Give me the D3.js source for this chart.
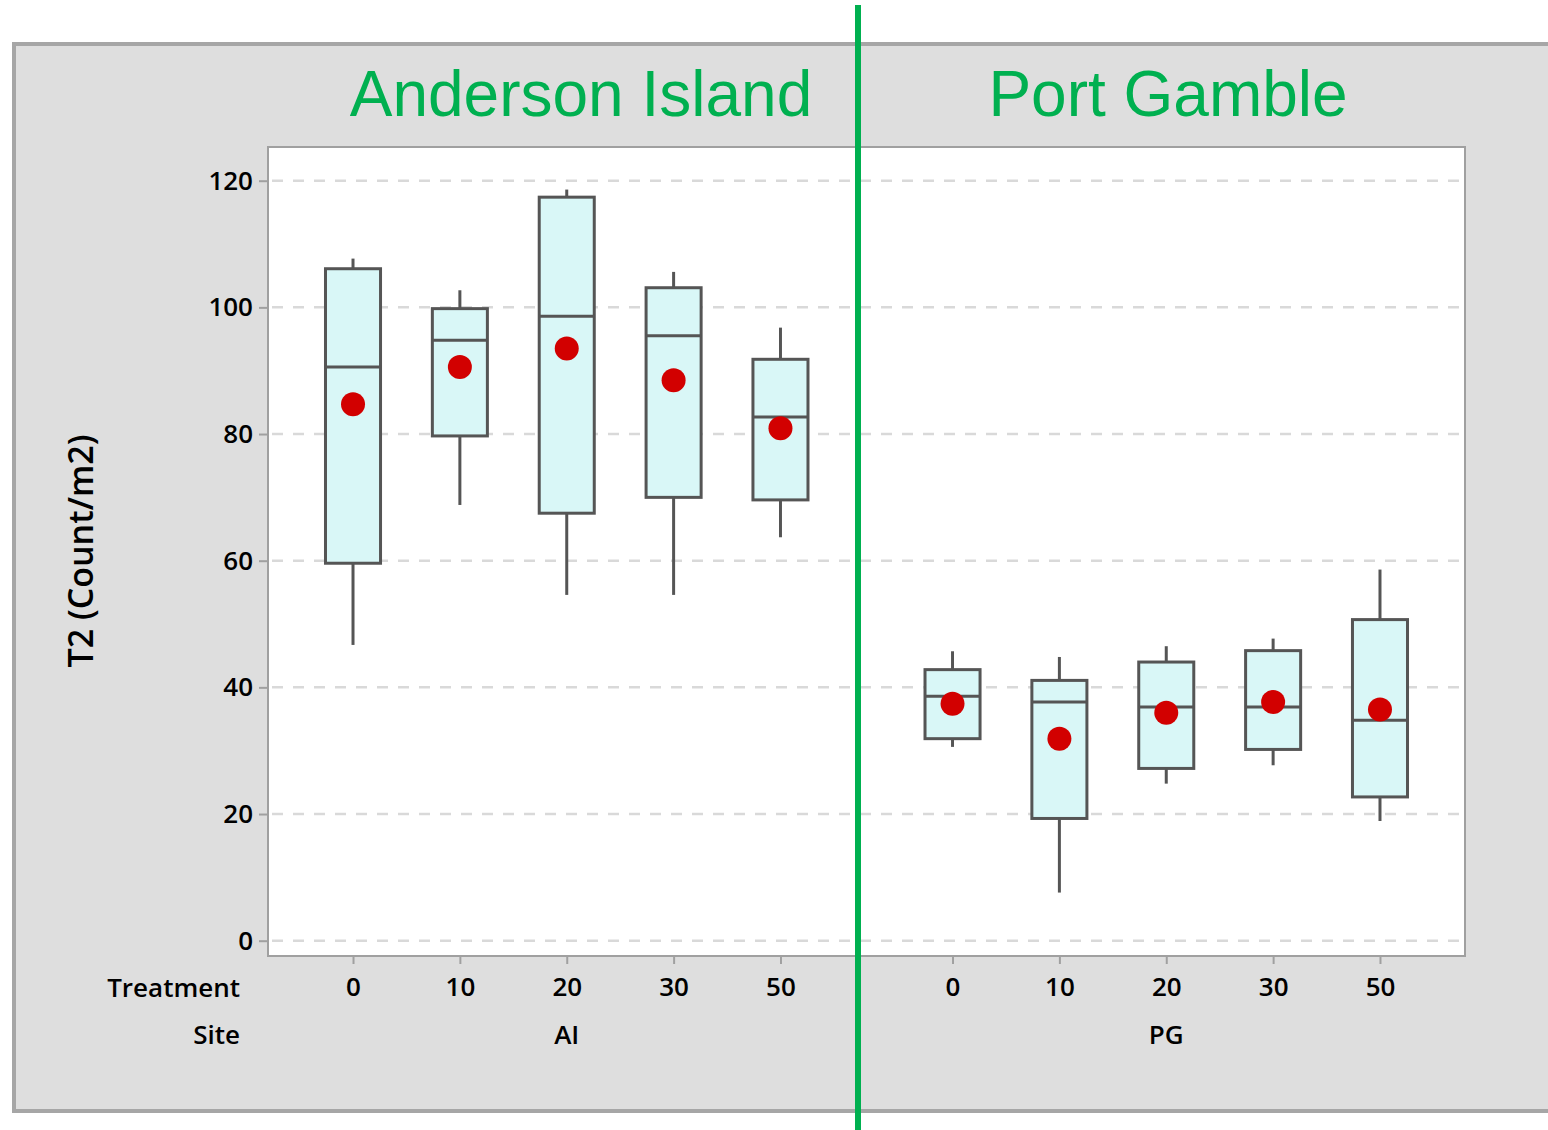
<!DOCTYPE html>
<html>
<head>
<meta charset="utf-8">
<script src="https://cdn.jsdelivr.net/npm/d3@7"></script>
<style>
  html, body { margin: 0; padding: 0; background: #ffffff; }
  svg { display: block; }
</style>
</head>
<body>
<script>
// Treatment levels within each site, and the two sites
const treatments = ["0", "10", "20", "30", "50"];
const sites = ["AI", "PG"];
const siteTitles = ["Anderson Island", "Port Gamble"];

// Box plot statistics, AI treatments first, then PG treatments
const whiskerLow  = [46.7, 68.8, 54.6, 54.6, 63.7, 30.6,  7.6, 24.8, 27.7, 18.9];
const q1          = [59.6, 79.7, 67.5, 70.0, 69.6, 31.9, 19.3, 27.2, 30.2, 22.7];
const median      = [90.6, 94.8, 98.6, 95.5, 82.7, 38.6, 37.7, 36.9, 36.9, 34.8];
const q3          = [106.1, 99.8, 117.4, 103.1, 91.8, 42.8, 41.1, 44.0, 45.8, 50.7];
const whiskerHigh = [107.7, 102.7, 118.6, 105.6, 96.8, 45.7, 44.8, 46.5, 47.7, 58.6];
const mean        = [84.7, 90.6, 93.5, 88.5, 80.9, 37.4, 31.9, 36.0, 37.7, 36.5];

const yTicks = [0, 20, 40, 60, 80, 100, 120];
const yLabel = "T2 (Count/m2)";

const W = 1548, H = 1130;
const plot = { left: 268, top: 147, right: 1465, bottom: 956 };
const font = "'Open Sans', 'Noto Sans', sans-serif";
const titleFont = "'Liberation Sans', Arial, sans-serif";
const green = "#00b050";
const boxStroke = "#555555";

const rows = [];
sites.forEach((s, si) => treatments.forEach((t, ti) => {
  const i = si * treatments.length + ti;
  rows.push({ site: s, treatment: t, lo: whiskerLow[i], q1: q1[i], med: median[i],
              q3: q3[i], hi: whiskerHigh[i], mean: mean[i] });
}));

const svg = d3.select("body").append("svg").attr("width", W).attr("height", H);

// Outer grey panel
svg.append("rect")
  .attr("x", 14).attr("y", 44).attr("width", W + 20).attr("height", 1067)
  .attr("fill", "#dedede").attr("stroke", "#a6a6a6").attr("stroke-width", 4);

// Scales
const y = d3.scaleLinear().domain([0, 120]).range([940.7, 180.7]);
const xSite = d3.scaleBand().domain(sites)
  .range([plot.left, plot.right]).paddingInner(0.287).paddingOuter(0.1418);
const xTreat = d3.scalePoint().domain(treatments).range([0, xSite.bandwidth()]).padding(0);
const xPos = d => xSite(d.site) + xTreat(d.treatment);
const boxW = xTreat.step() * 0.515;

// Plot area
svg.append("rect")
  .attr("x", plot.left).attr("y", plot.top)
  .attr("width", plot.right - plot.left).attr("height", plot.bottom - plot.top)
  .attr("fill", "#ffffff").attr("stroke", "#a0a0a0").attr("stroke-width", 2);

// Dashed gridlines
svg.append("g").selectAll("line").data(yTicks).join("line")
  .attr("x1", plot.left + 4).attr("x2", plot.right - 4)
  .attr("y1", d => y(d)).attr("y2", d => y(d))
  .attr("stroke", "#d9d9d9").attr("stroke-width", 2.5)
  .attr("stroke-dasharray", "11,10");

// Y axis ticks and labels
const yAxis = d3.axisLeft(y).tickValues(yTicks).tickSize(8).tickPadding(6);
const gy = svg.append("g").attr("transform", `translate(${plot.left - 1},0)`).call(yAxis);
gy.select(".domain").remove();
gy.selectAll(".tick line").attr("stroke", "#a0a0a0").attr("stroke-width", 2);
gy.selectAll(".tick text")
  .attr("font-family", font).attr("font-size", 26).attr("font-weight", 600).attr("fill", "#000");

// X axis: treatment ticks
const xAxisG = svg.append("g").attr("transform", `translate(0,${plot.bottom + 1})`);
sites.forEach(s => {
  const ax = d3.axisBottom(xTreat).tickSize(7).tickPadding(14);
  const g = xAxisG.append("g").attr("transform", `translate(${xSite(s)},0)`).call(ax);
  g.select(".domain").remove();
  g.selectAll(".tick line").attr("stroke", "#a0a0a0").attr("stroke-width", 2);
  g.selectAll(".tick text")
    .attr("font-family", font).attr("font-size", 26).attr("font-weight", 600).attr("fill", "#000");
});

// Site labels centred under each group
svg.append("g").selectAll("text").data(sites).join("text")
  .attr("x", d => xSite(d) + xSite.bandwidth() / 2).attr("y", 1044)
  .attr("text-anchor", "middle")
  .attr("font-family", font).attr("font-size", 26).attr("font-weight", 600)
  .text(d => d);

// Row headers
svg.append("text").attr("x", 240).attr("y", 997).attr("text-anchor", "end")
  .attr("font-family", font).attr("font-size", 26).attr("font-weight", 600).text("Treatment");
svg.append("text").attr("x", 240).attr("y", 1044).attr("text-anchor", "end")
  .attr("font-family", font).attr("font-size", 26).attr("font-weight", 600).text("Site");

// Y axis title
svg.append("text")
  .attr("transform", `translate(93,551) rotate(-90)`)
  .attr("text-anchor", "middle")
  .attr("font-family", font).attr("font-size", 34).attr("font-weight", 600)
  .text(yLabel);

// Boxes
const boxes = svg.append("g").selectAll("g").data(rows).join("g");
boxes.append("line")
  .attr("x1", xPos).attr("x2", xPos)
  .attr("y1", d => y(d.hi)).attr("y2", d => y(d.q3))
  .attr("stroke", boxStroke).attr("stroke-width", 3);
boxes.append("line")
  .attr("x1", xPos).attr("x2", xPos)
  .attr("y1", d => y(d.q1)).attr("y2", d => y(d.lo))
  .attr("stroke", boxStroke).attr("stroke-width", 3);
boxes.append("rect")
  .attr("x", d => xPos(d) - boxW / 2).attr("width", boxW)
  .attr("y", d => y(d.q3)).attr("height", d => y(d.q1) - y(d.q3))
  .attr("fill", "#d9f7f7").attr("stroke", boxStroke).attr("stroke-width", 3);
boxes.append("line")
  .attr("x1", d => xPos(d) - boxW / 2).attr("x2", d => xPos(d) + boxW / 2)
  .attr("y1", d => y(d.med)).attr("y2", d => y(d.med))
  .attr("stroke", boxStroke).attr("stroke-width", 3);
boxes.append("circle")
  .attr("cx", xPos).attr("cy", d => y(d.mean)).attr("r", 12)
  .attr("fill", "#d20000");

// Site titles above each group
svg.append("g").selectAll("text").data(sites).join("text")
  .attr("x", (d, i) => i === 0 ? 581 : 1168).attr("y", 116)
  .attr("text-anchor", "middle")
  .attr("font-family", titleFont).attr("font-size", 64).attr("fill", green)
  .text((d, i) => siteTitles[i]);

// Divider between the two sites
svg.append("line")
  .attr("x1", 858).attr("x2", 858).attr("y1", 5).attr("y2", H)
  .attr("stroke", green).attr("stroke-width", 6);
</script>
</body>
</html>
